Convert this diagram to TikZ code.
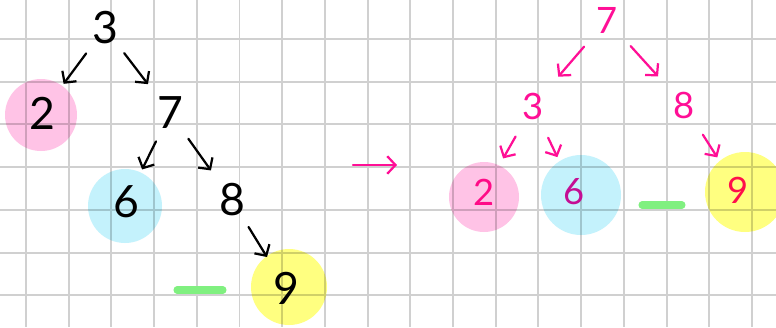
\documentclass[tikz,border=0pt]{standalone}
\usepackage{fontspec}
\setmainfont{Lato}
\usetikzlibrary{arrows.meta}
\definecolor{pen}{HTML}{FF0F96}
\definecolor{gridgray}{HTML}{D0D0D0}
\definecolor{hlpink}{HTML}{FFC3E6}
\definecolor{hlblue}{HTML}{C4F2FC}
\definecolor{hlyellow}{HTML}{FFFF80}
\definecolor{hlgreen}{HTML}{80F080}
\tikzset{>={Straight Barb[length=7pt,width=15pt]},
  gridline/.style={draw=gridgray,line width=1.7pt},
  blob/.style={blend mode=multiply},
  digit/.style={font=\fontsize{38}{40}\selectfont,inner sep=0pt},
  pendigit/.style={font=\fontsize{31}{33}\selectfont,text=pen,inner sep=0pt},
  link/.style={->,line width=1.9pt,line cap=round,line join=round},
  llink/.style={link,shorten <=27pt,shorten >=31pt},
  rlink/.style={link,draw=pen,shorten <=30pt,shorten >=33pt},
  blank/.style={draw=hlgreen,line width=6pt,line cap=round}}
\begin{document}
\begin{tikzpicture}[x=0.03cm,y=-0.03cm]
\useasboundingbox (0,0) rectangle (776,327);
\fill[white] (0,0) rectangle (776,327);
\foreach \k in {0,...,17} \draw[gridline] ({26+42.7*\k},0)--({26+42.7*\k},327);
\foreach \k in {0,...,6} \draw[gridline] (0,{39+42.7*\k})--(776,{39+42.7*\k});
% before
\node[digit] (l3) at (105,28) {3};\node[digit] (l2) at (42,113) {2};
\node[digit] (l7) at (170,113) {7};\node[digit] (l6) at (126,202) {6};
\node[digit] (l8) at (232,200) {8};\node[digit] (l9) at (286,288) {9};
\draw[llink] (l3.center)--(l2.center);\draw[llink] (l3.center)--(l7.center);
\draw[llink] (l7.center)--(l6.center);\draw[llink] (l7.center)--(l8.center);
\draw[llink] (l8.center)--(l9.center);
\draw[blank] (177,290)--(223,290);
% rotate
\coordinate (turnA) at (353,165);\coordinate (turnB) at (397,165);
\draw[link,draw=pen] (turnA)--(turnB);
% after
\node[pendigit] (r7) at (607,20) {7};\node[pendigit] (r3) at (533,106) {3};
\node[pendigit] (r8) at (684,105) {8};\node[pendigit] (r2) at (484,192) {2};
\node[pendigit] (r6) at (574,192) {6};\node[pendigit] (r9) at (738,190) {9};
\draw[rlink] (r7.center)--(r3.center);\draw[rlink] (r7.center)--(r8.center);
\draw[rlink] (r3.center)--(r2.center);\draw[rlink] (r3.center)--(r6.center);
\draw[rlink] (r8.center)--(r9.center);
\draw[blank] (642,205)--(682,205);
% highlights
\fill[blob,hlpink] (41,115) circle (36);\fill[blob,hlblue] (125,206) circle (37);
\fill[blob,hlyellow] (289,287) circle (38);
\fill[blob,hlpink] (484,197) circle (35);\fill[blob,hlblue] (581,195) circle (40);
\fill[blob,hlyellow] (745,192) circle (40);
\end{tikzpicture}
\end{document}
